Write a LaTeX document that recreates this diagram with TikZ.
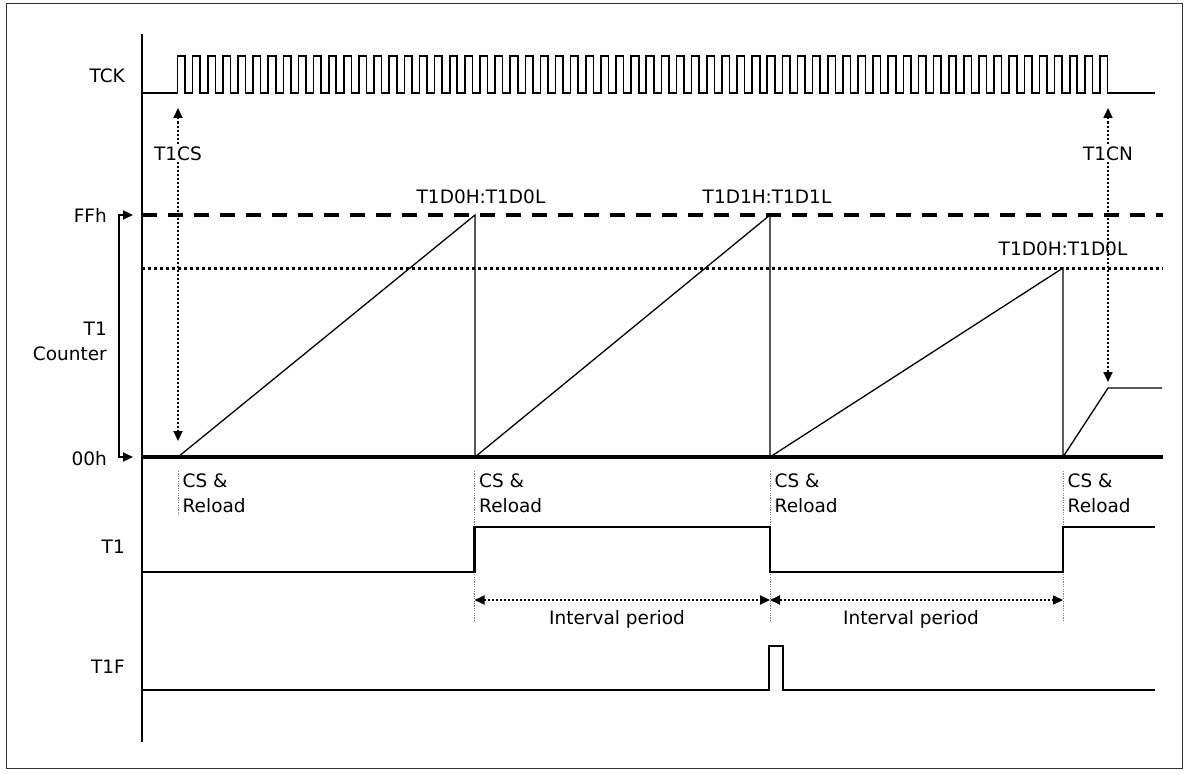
\documentclass[tikz,border=0pt]{standalone}
\usepackage{fontspec}
\setmainfont{DejaVu Sans}
\usetikzlibrary{arrows.meta}
\begin{document}
\begin{tikzpicture}[x=1pt,y=-1pt,
  lbl/.style={font=\fontsize{18.5}{22}\selectfont, inner sep=0pt},
  tipboth/.style={{Triangle[length=10pt,width=9pt]}-{Triangle[length=10pt,width=9pt]}},
  tipend/.style={-{Triangle[length=10pt,width=9pt]}},
  vdot/.style={line width=2pt, dash pattern=on 2pt off 2pt},
  guide/.style={line width=0.8pt, gray, dash pattern=on 1.2pt off 1.2pt},
  sig/.style={line width=2.2pt},
  ramp/.style={line width=1.3pt, line join=miter},
  clk/.style={line width=1.6pt}
]
\useasboundingbox (0,0) rectangle (1190,773);
% frame
\draw[line width=1pt, black!80] (6,4) rectangle (1182,768);
% axis
\coordinate (axT) at (142,34);
\coordinate (axB) at (142,742);
\draw[line width=1.6pt] (axT) -- (axB);

% labels on the left
\node[lbl, anchor=base east] (lTCK) at (125,83) {TCK};
\node[lbl, anchor=base east] (lFF) at (107,222) {FFh};
\node[lbl, anchor=base east] (l00) at (107,465) {00h};
\node[lbl, anchor=base east] (lT1a) at (107,335) {T1};
\node[lbl, anchor=base east] (lT1b) at (107,360) {Counter};
\node[lbl, anchor=base east] (lT1) at (125,553) {T1};
\node[lbl, anchor=base east] (lT1F) at (125,673) {T1F};

% clock
\pgfmathsetmacro{\h}{930/123}
\draw[clk, line join=miter] (142,93) -- (177.5,93)
  \foreach \i in {0,...,61}{ -- ++(0,-37) -- ++(\h,0) -- ++(0,37) -- ++(\h,0)} -- (1155,93);

% reference levels
\coordinate (ffL) at (142,215);
\coordinate (ffR) at (1163,215);
\coordinate (dtL) at (142,268);
\coordinate (dtR) at (1163,268);
\draw[line width=3.5pt, dash pattern=on 15pt off 11pt] (ffL) -- (ffR);
\draw[line width=3pt, dash pattern=on 3pt off 3pt] (dtL) -- (dtR);

% bracket
\coordinate (bT) at (133,215);
\coordinate (bB) at (133,457);
\draw[line width=2pt, tipboth] (bT) -- (119,215) -- (119,457) -- (bB);

% counter ramps
\coordinate (c0) at (178,457);
\coordinate (p0) at (475,215);
\coordinate (c1) at (475,457);
\coordinate (p1) at (770,215);
\coordinate (c2) at (770,457);
\coordinate (p2) at (1063,268);
\coordinate (c3) at (1063,457);
\coordinate (p3) at (1108,388);
\coordinate (e3) at (1162,388);
\draw[ramp] (c0) -- (p0) -- (c1) -- (p1) -- (c2) -- (p2) -- (c3) -- (p3) -- (e3);

% 00h baseline
\coordinate (zL) at (142,457);
\coordinate (zR) at (1163,457);
\draw[line width=3.5pt] (zL) -- (zR);

% peak labels
\node[lbl, anchor=base] (pk0) at (481,203) {T1D0H:T1D0L};
\node[lbl, anchor=base] (pk1) at (767,203) {T1D1H:T1D1L};
\node[lbl, anchor=base] (pk2) at (1063,255) {T1D0H:T1D0L};

% T1CS / T1CN arrows
\coordinate (csT) at (178,108);
\coordinate (csB) at (178,441);
\coordinate (cnT) at (1108,108);
\coordinate (cnB) at (1108,382);
\draw[vdot, tipboth] (csT) -- (csB);
\draw[vdot, tipboth] (cnT) -- (cnB);
\node[lbl, anchor=base, fill=white, inner xsep=2pt, inner ysep=2pt] (tcs) at (178,160) {T1CS};
\node[lbl, anchor=base, fill=white, inner xsep=2pt, inner ysep=2pt] (tcn) at (1108,160) {T1CN};

% CS & Reload guides
\foreach \x/\b [count=\k] in {178/515, 474.5/622, 770/622, 1063/622}{
  \coordinate (g\k t) at (\x,471);
  \coordinate (g\k b) at (\x,\b);
  \draw[guide] (g\k t) -- (g\k b);
  \node[lbl, anchor=base west] (cs\k) at (\x+4.5,487) {CS \&};
  \node[lbl, anchor=base west] (rl\k) at (\x+4.5,512) {Reload};
}

% T1 signal
\draw[sig, line join=miter] (142,572) -- (474.5,572) -- (474.5,527) -- (770,527) -- (770,572)
  -- (1063,572) -- (1063,527) -- (1155,527);

% interval periods
\coordinate (i0) at (474.5,600);
\coordinate (i1) at (770,600);
\coordinate (i2) at (1063,600);
\draw[vdot, tipboth] (i0) -- (i1);
\draw[vdot, tipboth] (i1) -- (i2);
\node[lbl, anchor=base] (ip1) at (617,624) {Interval period};
\node[lbl, anchor=base] (ip2) at (911,624) {Interval period};

% T1F signal
\draw[sig, line join=miter] (142,690) -- (769,690) -- (769,646) -- (783,646) -- (783,690) -- (1155,690);
\end{tikzpicture}
\end{document}
